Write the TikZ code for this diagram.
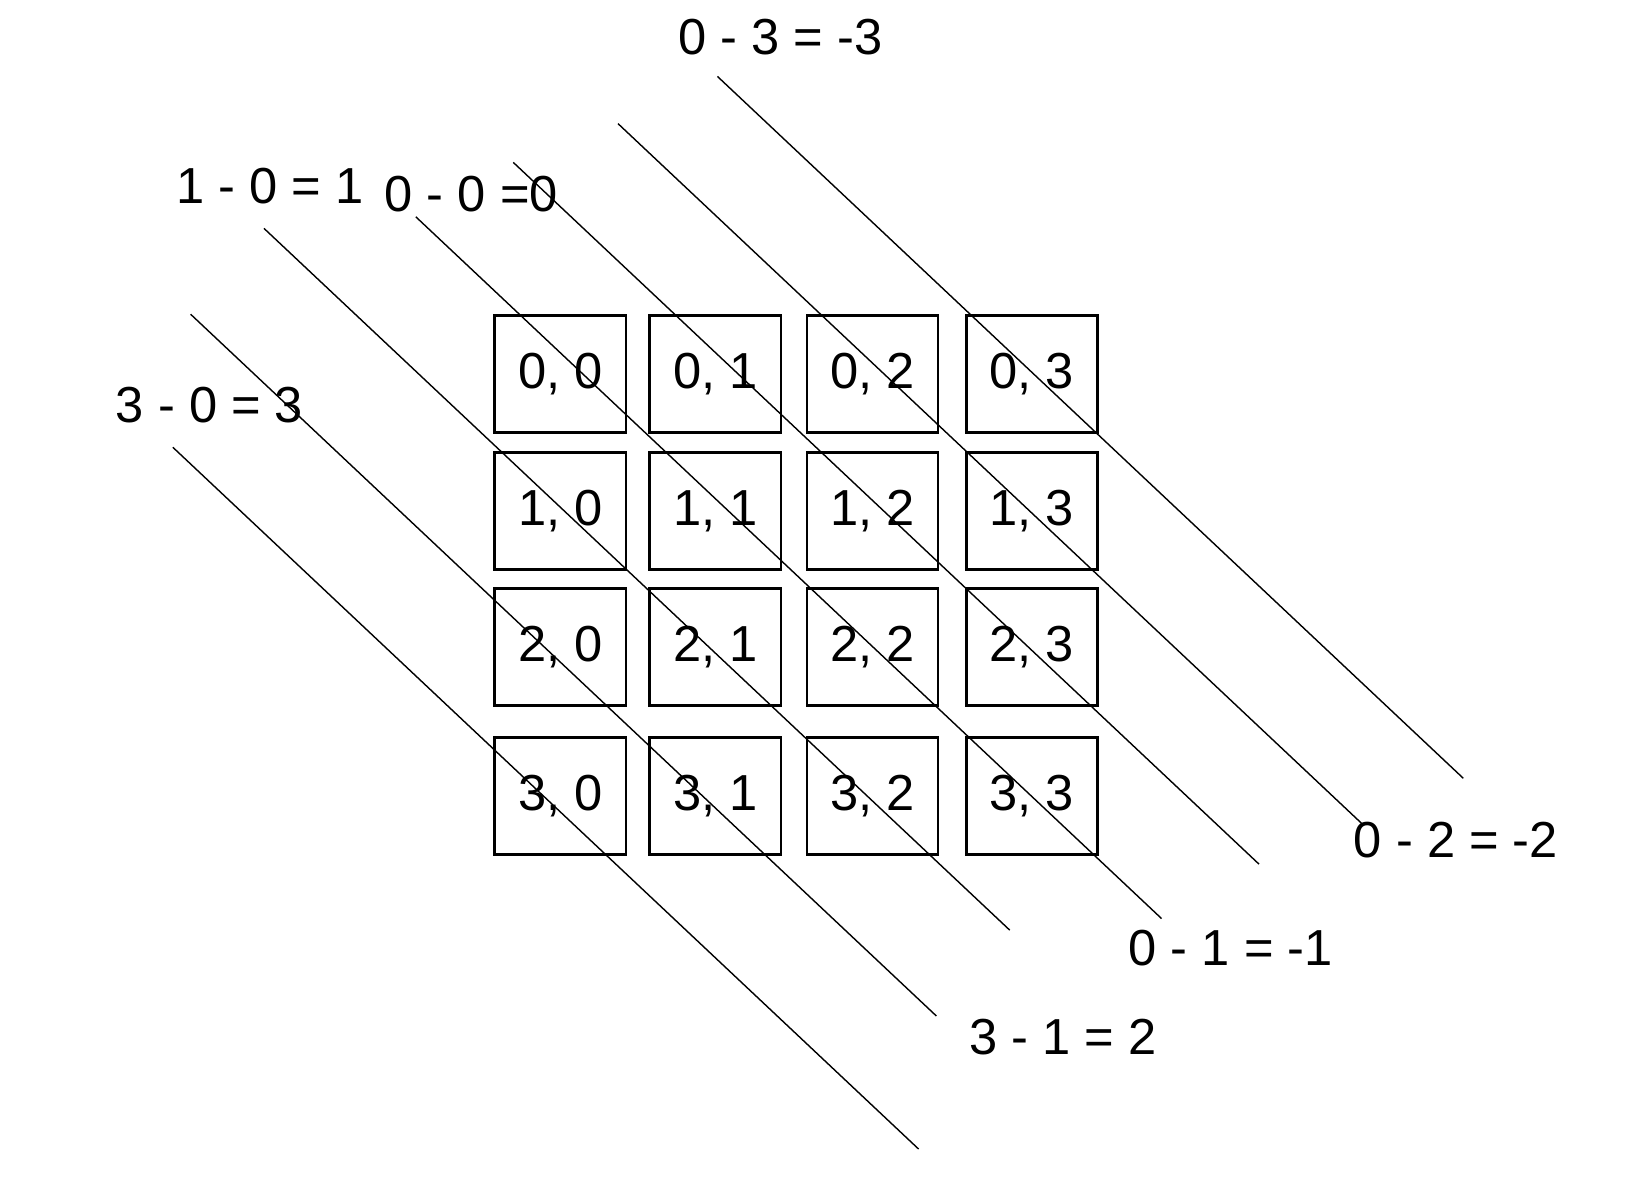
\documentclass[tikz,border=0pt]{standalone}
\usepackage{fontspec}
\setmainfont{Liberation Sans}
\usetikzlibrary{positioning}

\begin{document}
\begin{tikzpicture}[x=0.01047cm,y=-0.01047cm,
    cell/.style={draw, thick, minimum width=1.31cm, minimum height=1.17cm, font=\Large},
    diag/.style={thin},
    eqn/.style={font=\Large}]
  \useasboundingbox (0,0) rectangle (1560,1134);

  % Grid of index pairs
  \foreach \r/\y in {0/357,1/488,2/618,3/760}
    \foreach \c/\x in {0/535,1/683,2/833,3/985}
      \node (c\r\c) [cell] at (\x,\y) {\r, \c};

  % Diagonals
  \foreach \n/\ax/\ay in {a/685/73, b/590/118, c/490/155, d/397/207, e/252/218, f/182/300, g/165/427}
  {
    \coordinate (\n1) at (\ax,\ay);
    \coordinate (\n2) at (\ax+712,\ay+670);
    \draw[diag] (\n1) -- (\n2);
  }

  % Differences
  \node (m3) [eqn] at (745,35) {0 - 3 = -3};
  \node (p1) [eqn] at (258,178) {1 - 0 = 1};
  \node (z0) [eqn] at (450,185) {0 - 0 =0};
  \node (p3) [eqn] at (200,387) {3 - 0 = 3};
  \node (m2) [eqn] at (1390,802) {0 - 2 = -2};
  \node (m1) [eqn] at (1175,905) {0 - 1 = -1};
  \node (p2) [eqn] at (1015,990) {3 - 1 = 2};
\end{tikzpicture}
\end{document}
